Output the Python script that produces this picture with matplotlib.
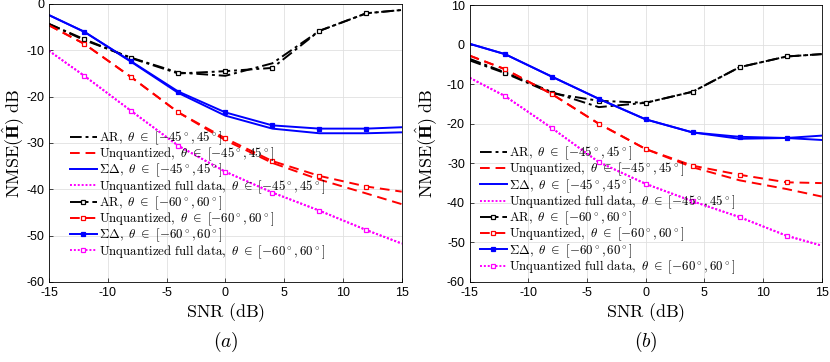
import numpy as np
import matplotlib
matplotlib.use("Agg")
import matplotlib.pyplot as plt

plt.rcParams['mathtext.fontset'] = 'cm'
plt.rcParams['font.family'] = ['Liberation Sans', 'DejaVu Sans']
plt.rcParams['axes.unicode_minus'] = False

# SNR grid (dB)
snr = [-15, -12, -8, -4, 0, 4, 8, 12, 15]

# (a) values, NMSE in dB
a_ar45 = [-4.3, -7.8, -11.6, -14.8, -15.5, -12.8, -5.8, -2.0, -1.3]
a_unq45 = [-4.6, -8.6, -15.8, -23.4, -29.4, -34.3, -37.9, -40.9, -43.2]
a_sd45 = [-2.4, -6.0, -12.5, -19.2, -24.1, -26.9, -27.9, -27.9, -27.7]
a_full45 = [-10.1, -15.5, -23.1, -30.6, -36.2, -40.7, -44.6, -48.8, -51.7]
a_ar60 = [-4.3, -7.6, -11.7, -15.0, -14.5, -13.8, -5.8, -2.0, -1.3]
a_unq60 = [-4.6, -8.6, -15.8, -23.4, -29.0, -33.9, -37.1, -39.4, -40.5]
a_sd60 = [-2.4, -6.0, -12.4, -18.9, -23.4, -26.2, -26.9, -26.9, -26.6]
a_full60 = [-10.1, -15.5, -23.1, -30.6, -36.2, -40.7, -44.6, -48.8, -51.7]

# (b) values
b_ar45 = [-3.6, -7.0, -12.0, -15.8, -14.7, -11.9, -5.7, -3.0, -2.4]
b_unq45 = [-2.8, -6.2, -12.5, -20.0, -26.4, -31.0, -34.3, -36.5, -38.4]
b_sd45 = [0.2, -2.4, -8.1, -13.7, -18.9, -22.2, -23.8, -23.6, -24.1]
b_full45 = [-8.4, -13.0, -21.1, -29.7, -35.2, -39.6, -43.6, -48.3, -50.8]
b_ar60 = [-4.0, -7.2, -12.3, -14.2, -14.7, -11.9, -5.7, -3.0, -2.4]
b_unq60 = [-2.8, -6.2, -12.5, -20.0, -26.4, -30.6, -32.9, -34.8, -35.0]
b_sd60 = [0.2, -2.4, -8.1, -13.7, -18.9, -22.2, -23.3, -23.6, -23.0]
b_full60 = [-8.4, -13.0, -21.1, -29.7, -35.2, -39.6, -43.6, -48.3, -50.8]

labels = [r"$\mathrm{AR},\ \theta\ \in\ [-45^\circ, 45^\circ]$",
          r"$\mathrm{Unquantized},\ \theta\ \in\ [-45^\circ, 45^\circ]$",
          r"$\Sigma\Delta,\ \theta\ \in\ [-45^\circ, 45^\circ]$",
          r"$\mathrm{Unquantized\ full\ data},\ \theta\ \in\ [-45^\circ, 45^\circ]$",
          r"$\mathrm{AR},\ \theta\ \in\ [-60^\circ, 60^\circ]$",
          r"$\mathrm{Unquantized},\ \theta\ \in\ [-60^\circ, 60^\circ]$",
          r"$\Sigma\Delta,\ \theta\ \in\ [-60^\circ, 60^\circ]$",
          r"$\mathrm{Unquantized\ full\ data},\ \theta\ \in\ [-60^\circ, 60^\circ]$"]

colors = ['black', 'red', 'blue', 'magenta']
styles = [(0, (6, 2, 1.5, 2)), (0, (5, 3)), '-', (0, (1, 1))]
filled = [False, False, True, False]

fig = plt.figure(figsize=(8.3, 3.62), dpi=100)
ax1 = fig.add_axes([0.059, 0.221, 0.425, 0.768])
ax2 = fig.add_axes([0.566, 0.221, 0.424, 0.765])

panels = [
    (ax1, [a_ar45, a_unq45, a_sd45, a_full45], [a_ar60, a_unq60, a_sd60, a_full60],
     (-60, 0), 'a', (0.059, 0.077), -0.066),
    (ax2, [b_ar45, b_unq45, b_sd45, b_full45], [b_ar60, b_unq60, b_sd60, b_full60],
     (-60, 10), 'b', (0.028, 0.022), -0.087),
]

for ax, s45, s60, ylim, tag, lpos, ylx in panels:
    for i in range(4):
        ax.plot(snr, s45[i], color=colors[i], linestyle=styles[i], lw=1.4,
                label=labels[i])
    for i in range(4):
        ax.plot(snr, s60[i], color=colors[i], linestyle=styles[i], lw=1.4,
                marker='s', markersize=3.5, markeredgewidth=0.9,
                markerfacecolor=colors[i] if filled[i] else 'white',
                markevery=list(range(1, 8)), label=labels[4 + i])
    ax.set_xlim(-15, 15)
    ax.set_ylim(*ylim)
    ax.set_xticks(range(-15, 16, 5))
    ax.set_yticks(range(ylim[0], ylim[1] + 1, 10))
    ax.tick_params(direction='in', labelsize=9, length=3, width=0.5)
    ax.grid(True, color='#e0e0e0', lw=0.6)
    for sp in ax.spines.values():
        sp.set_linewidth(0.6)
    ax.set_xlabel(r"$\mathrm{SNR\ (dB)}$", fontsize=13, labelpad=2)
    ax.set_ylabel(r"$\mathrm{NMSE}(\hat{\mathbf{H}})\ \mathrm{dB}$", fontsize=13)
    ax.yaxis.set_label_coords(ylx, 0.5)
    ax.text(0.5, -0.215, r"$(%s)$" % tag, transform=ax.transAxes, fontsize=14,
            ha='center', va='center')
    ax.legend(loc='lower left', bbox_to_anchor=lpos, frameon=False,
              fontsize=9.3, handlelength=2.1, handletextpad=0.2,
              labelspacing=-0.1, borderaxespad=0, borderpad=0)

fig.savefig('out.png', dpi=100)
